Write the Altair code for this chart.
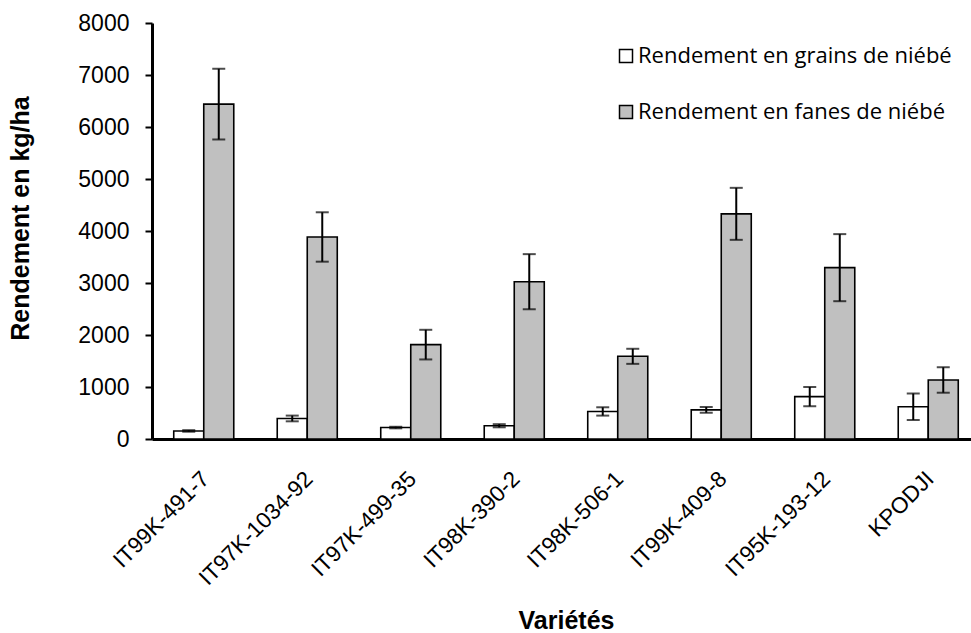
import altair as alt
import pandas as pd

varietes = ["IT99K-491-7", "IT97K-1034-92", "IT97K-499-35", "IT98K-390-2",
            "IT98K-506-1", "IT99K-409-8", "IT95K-193-12", "KPODJI"]
series = ["Rendement en grains de niébé", "Rendement en fanes de niébé"]
grains = [155, 395, 220, 255, 530, 560, 815, 620]
grains_err = [15, 55, 15, 30, 80, 55, 185, 255]
fanes = [6440, 3885, 1815, 3025, 1590, 4330, 3295, 1135]
fanes_err = [680, 475, 285, 530, 145, 500, 645, 245]
y_ticks = [0, 1000, 2000, 3000, 4000, 5000, 6000, 7000, 8000]

rows = []
for i, v in enumerate(varietes):
    for s, vals, errs in ((series[0], grains, grains_err), (series[1], fanes, fanes_err)):
        rows.append({"variete": v, "serie": s, "value": vals[i],
                     "lo": vals[i] - errs[i], "hi": vals[i] + errs[i]})
df = pd.DataFrame(rows)

YTITLE = "Rendement en kg/ha"

base = alt.Chart(df).encode(
    x=alt.X("variete:N", sort=varietes, title="Variétés",
            scale=alt.Scale(paddingInner=0.42, paddingOuter=0.21, range=[0, 828])),
    xOffset=alt.XOffset("serie:N", sort=series,
                        scale=alt.Scale(paddingInner=0, paddingOuter=0)),
)

bars = base.mark_bar(stroke="black", strokeWidth=1.6).encode(
    y=alt.Y("value:Q", title=YTITLE, scale=alt.Scale(domain=[0, 8000], nice=False),
            axis=alt.Axis(values=y_ticks, format="d")),
    fill=alt.Fill("serie:N", sort=series,
                  scale=alt.Scale(domain=series, range=["#ffffff", "#c0c0c0"]),
                  legend=alt.Legend(title=None)),
)

rules = base.mark_rule(color="black", strokeWidth=2).encode(
    y=alt.Y("lo:Q", title=YTITLE), y2="hi:Q")
cap_hi = base.mark_tick(color="black", thickness=2, size=13).encode(
    y=alt.Y("hi:Q", title=YTITLE))
cap_lo = base.mark_tick(color="black", thickness=2, size=13).encode(
    y=alt.Y("lo:Q", title=YTITLE))

chart = (
    alt.layer(bars, rules, cap_hi, cap_lo)
    .properties(width=819, height=416,
                autosize=alt.AutoSizeParams(type="none"),
                padding={"left": 152, "top": 23, "right": 0, "bottom": 194})
    .configure_view(stroke=None)
    .configure_axis(grid=False, domainColor="black", tickColor="black",
                    labelColor="black", titleColor="black",
                    labelFont="Liberation Sans", titleFont="Liberation Sans")
    .configure_axisY(domainWidth=3, tickWidth=2, tickSize=7, labelPadding=16,
                     labelFontSize=23, titleFontSize=25, titleFontWeight="bold",
                     titleX=-124, titleY=195, titleBaseline="alphabetic",
                     titleAngle=270, titleAlign="center")
    .configure_axisX(domainWidth=3, ticks=False, tickSize=0, labelAngle=315,
                     labelAlign="right", labelBaseline="middle", labelPadding=36,
                     labelOffset=2, labelFontSize=22.5, titleFontSize=25,
                     titleFontWeight="bold", titleY=181, titleBaseline="middle")
    .configure_legend(orient="none", legendX=463, legendY=22, symbolType="square",
                      symbolSize=169, symbolStrokeColor="black", symbolStrokeWidth=1.5,
                      labelFont="Open Sans", labelFontSize=22, labelColor="black",
                      rowPadding=34, labelOffset=1, labelLimit=400)
)

chart.save("out.html", embed_options={"renderer": "svg", "actions": False})
